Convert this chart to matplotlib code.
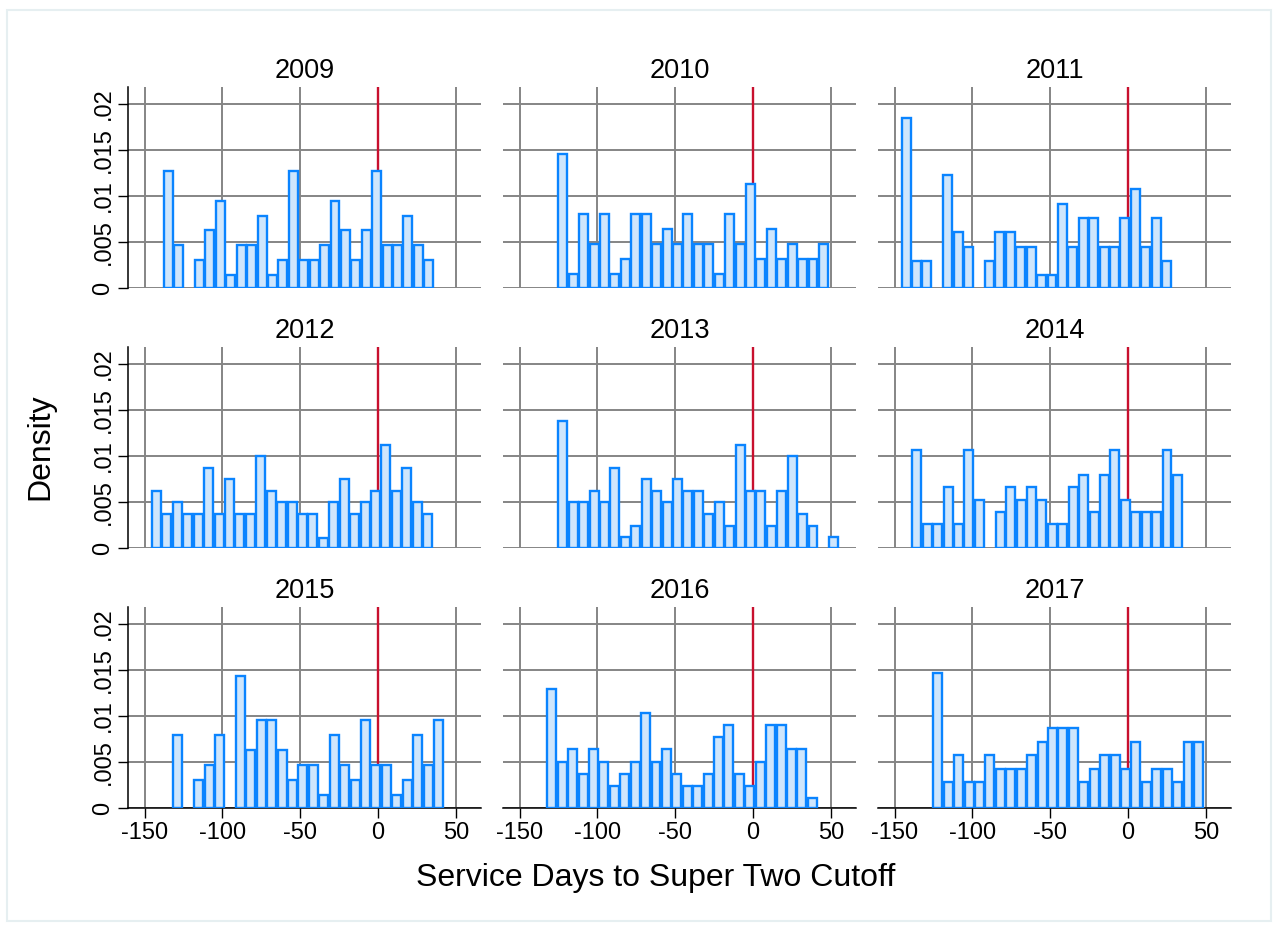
import matplotlib.pyplot as plt
import numpy as np
from matplotlib.patches import Rectangle

plt.rcParams['font.family']=['Liberation Sans','DejaVu Sans']

years=['2009','2010','2011','2012','2013','2014','2015','2016','2017']
bin_w=6.7
# left edge of the first bin for each year
first_edge=[-138.2,-125.6,-146.0,-145.7,-125.6,-139.1,-132.0,-132.7,-125.6]

d2009=[0.01273,0.0047,0,0.00307,0.00629,0.0095,0.00148,0.0047,0.0047,0.00788,0.00148,0.00307,0.01273,
       0.00307,0.00307,0.0047,0.0095,0.00629,0.00307,0.00629,0.01273,0.0047,0.0047,0.00788,0.0047,0.00307]
d2010=[0.0146,0.00155,0.00806,0.0048,0.00806,0.00155,0.00318,0.00806,0.00806,0.0048,0.00643,0.0048,0.00806,
       0.0048,0.0048,0.00155,0.00806,0.0048,0.01135,0.00318,0.00643,0.00318,0.0048,0.00318,0.00318,0.0048]
d2011=[0.0185,0.00296,0.00296,0,0.01229,0.0061,0.00452,0,0.00296,0.0061,0.0061,0.00452,0.00452,
       0.00145,0.00145,0.00918,0.00452,0.00766,0.00766,0.00452,0.00452,0.00766,0.01077,0.00452,0.00766,0.00296]
d2012=[0.00622,0.00372,0.00499,0.00372,0.00372,0.00875,0.00372,0.00748,0.00372,0.00372,0.00998,0.00622,0.00499,
       0.00499,0.00372,0.00372,0.00112,0.00499,0.00748,0.00372,0.00499,0.00622,0.01124,0.00622,0.00875,0.00499,0.00372]
d2013=[0.01381,0.00499,0.00499,0.00622,0.00499,0.00875,0.00119,0.00246,0.00748,0.00622,0.00499,0.00748,0.00622,
       0.00622,0.00372,0.00499,0.00246,0.01124,0.00622,0.00622,0.00246,0.00622,0.00998,0.00372,0.00246,0,0.00119]
d2014=[0.01066,0.0026,0.0026,0.00665,0.0026,0.01066,0.00524,0,0.00394,0.00665,0.00524,0.00665,0.00524,
       0.0026,0.0026,0.00665,0.00799,0.00394,0.00799,0.01066,0.00524,0.00394,0.00394,0.00394,0.01066,0.00799]
d2015=[0.00796,0,0.00307,0.0047,0.00796,0,0.0144,0.00629,0.00958,0.00958,0.00629,0.00307,0.0047,
       0.0047,0.00148,0.00796,0.0047,0.00307,0.00958,0.0047,0.0047,0.00148,0.00307,0.00796,0.0047,0.00958]
d2016=[0.01295,0.00506,0.0064,0.00376,0.0064,0.00506,0.00246,0.00376,0.00506,0.01031,0.00506,0.0064,0.00376,
       0.00246,0.00246,0.00376,0.0077,0.009,0.00376,0.00246,0.00506,0.009,0.009,0.0064,0.0064,0.00116]
d2017=[0.01465,0.00282,0.00579,0.00282,0.00282,0.00579,0.00427,0.00427,0.00427,0.00579,0.00723,0.00872,0.00872,
       0.00872,0.00282,0.00427,0.00579,0.00579,0.00427,0.00723,0.00282,0.00427,0.00427,0.00282,0.00723,0.00723]
dens=[d2009,d2010,d2011,d2012,d2013,d2014,d2015,d2016,d2017]

xticks=[-150,-100,-50,0,50]
yticks=[0,0.005,0.01,0.015,0.02]
ytick_labels=['0','.005','.01','.015','.02']
cutoff=0

W,H=1278,925
fig=plt.figure(figsize=(W/100,H/100),dpi=100)
fig.patches.append(Rectangle((7/W,4/H),(1271-7)/W,(918-7)/H,transform=fig.transFigure,
                             fill=False,edgecolor='#e6eff1',linewidth=1.5))

col_left=[128.3,503.3,878.3]
row_top=[87.3,347.3,607.3]
aw,ah=352.4,201

for k in range(9):
    r,c=divmod(k,3)
    ax=fig.add_axes([col_left[c]/W,(H-row_top[r]-ah)/H,aw/W,ah/H])
    h=np.array(dens[k])
    edges=first_edge[k]+bin_w*np.arange(len(h))
    keep=h>0
    ax.bar(edges[keep]+bin_w/2,h[keep],width=bin_w*0.86,color='#cfe6fc',edgecolor='#0a84ff',
           linewidth=1.7,zorder=3)
    ax.axvline(cutoff,color='#c8102e',linewidth=1.7,zorder=2)
    ax.set_xlim(-160.5,66)
    ax.set_ylim(0,0.0218)
    ax.set_xticks(xticks)
    ax.set_yticks(yticks)
    ax.grid(True,color='#858585',linewidth=1.4,zorder=1)
    ax.set_axisbelow(True)
    for s in ['top','right']:
        ax.spines[s].set_visible(False)
    ax.spines['left'].set_visible(c==0)
    ax.spines['bottom'].set_visible(r==2)
    ax.spines['left'].set_linewidth(1.1)
    ax.spines['bottom'].set_linewidth(1.1)
    ax.tick_params(length=7,width=1.0,labelsize=17,pad=3)
    if c==0:
        ax.set_yticklabels(ytick_labels,rotation=90,va='center')
    else:
        ax.tick_params(axis='y',left=False,labelleft=False)
    if r<2:
        ax.tick_params(axis='x',bottom=False,labelbottom=False)
    else:
        ax.set_xticklabels([str(t) for t in xticks])
    ax.set_title(years[k],fontsize=19.5,pad=7)

fig.text(656/W,1-878/H,'Service Days to Super Two Cutoff',ha='center',va='center',fontsize=23)
fig.text(40/W,1-447/H,'Density',ha='center',va='center',rotation=90,fontsize=23)

plt.savefig('out.png',dpi=100)
